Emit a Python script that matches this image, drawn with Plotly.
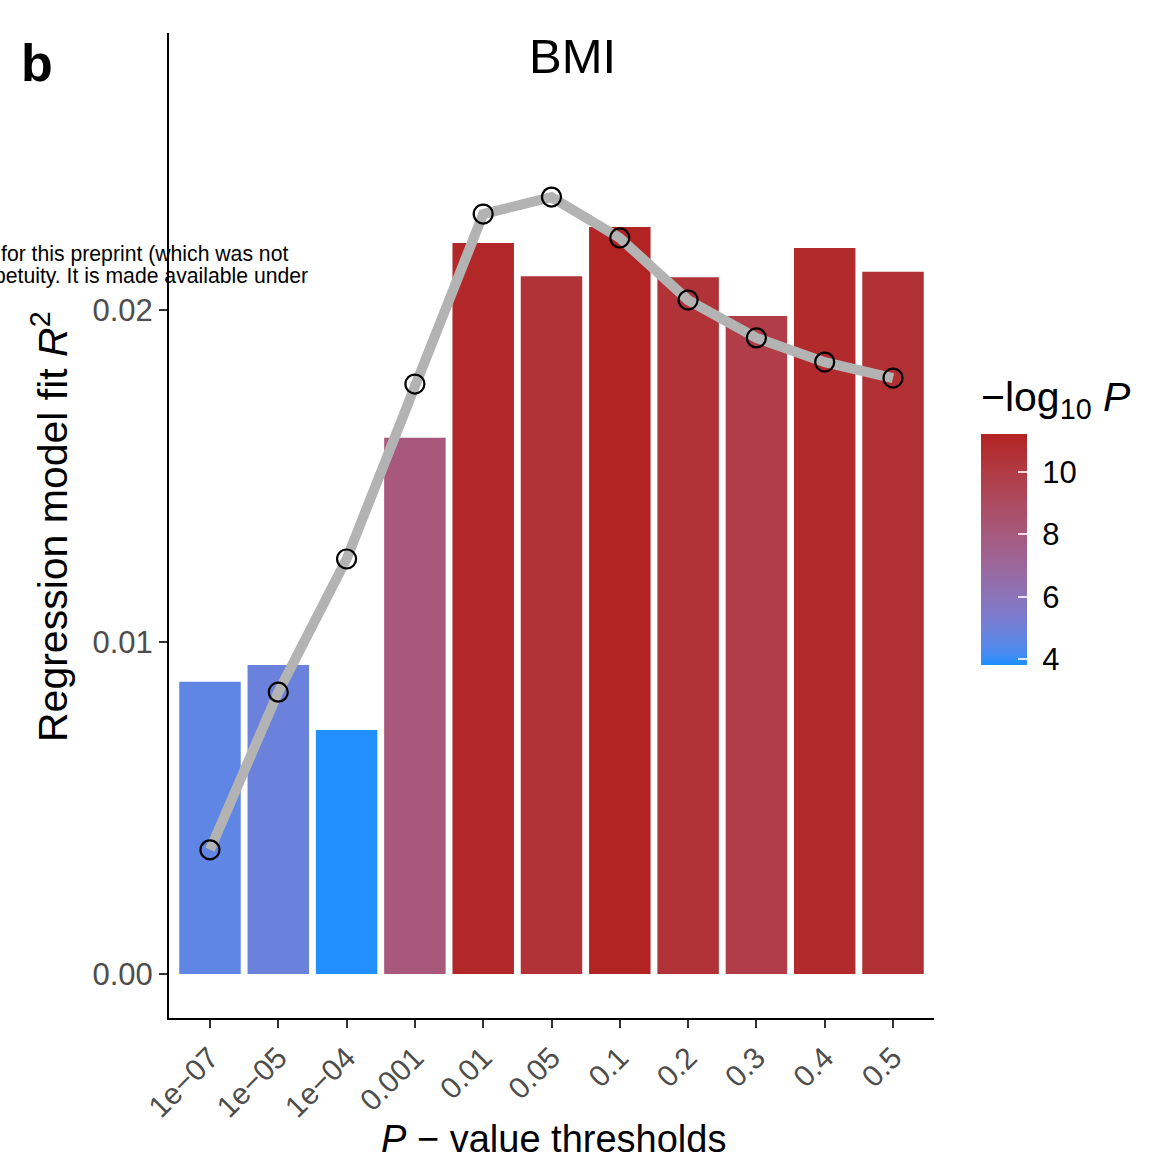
import plotly.graph_objects as go

# ---------------- data ----------------
thresholds = ["1e\u221207", "1e\u221205", "1e\u221204", "0.001", "0.01", "0.05",
              "0.1", "0.2", "0.3", "0.4", "0.5"]
bar_r2 = [0.00880, 0.00931, 0.00735, 0.01615, 0.02202, 0.02102,
          0.02250, 0.02099, 0.01982, 0.02187, 0.02115]
neglog10p = [4.6, 4.9, 3.85, 8.1, 11.0, 10.5, 11.2, 10.5, 9.9, 10.9, 10.6]
line_r2 = [0.00374, 0.00849, 0.01250, 0.01777, 0.02289, 0.02340,
           0.02217, 0.02030, 0.01916, 0.01843, 0.01795]
y_ticks = [0.0, 0.01, 0.02]
cbar_ticks = [4, 6, 8, 10]

# ------------- colour scale (Lab interpolation like ggplot) -------------
def hex2rgb(h):
    h = h.lstrip("#")
    return [int(h[i:i + 2], 16) / 255 for i in (0, 2, 4)]

def srgb2lin(c):
    return c / 12.92 if c <= 0.04045 else ((c + 0.055) / 1.055) ** 2.4

def lin2srgb(c):
    c = max(0.0, min(1.0, c))
    return 12.92 * c if c <= 0.0031308 else 1.055 * c ** (1 / 2.4) - 0.055

WX, WY, WZ = 0.95047, 1.0, 1.08883

def f(t):
    return t ** (1 / 3) if t > 0.008856 else 7.787 * t + 16 / 116

def finv(t):
    return t ** 3 if t ** 3 > 0.008856 else (t - 16 / 116) / 7.787

def rgb2lab(rgb):
    r, g, b = [srgb2lin(c) for c in rgb]
    X = 0.4124 * r + 0.3576 * g + 0.1805 * b
    Y = 0.2126 * r + 0.7152 * g + 0.0722 * b
    Z = 0.0193 * r + 0.1192 * g + 0.9505 * b
    fx, fy, fz = f(X / WX), f(Y / WY), f(Z / WZ)
    return [116 * fy - 16, 500 * (fx - fy), 200 * (fy - fz)]

def lab2rgb(lab):
    L, a, b = lab
    fy = (L + 16) / 116
    fx = fy + a / 500
    fz = fy - b / 200
    X, Y, Z = WX * finv(fx), WY * finv(fy), WZ * finv(fz)
    r = 3.2406 * X - 1.5372 * Y - 0.4986 * Z
    g = -0.9689 * X + 1.8758 * Y + 0.0415 * Z
    bb = 0.0557 * X - 0.2040 * Y + 1.0570 * Z
    return "rgb(%d,%d,%d)" % tuple(round(lin2srgb(c) * 255) for c in (r, g, bb))

lo, hi = rgb2lab(hex2rgb("#1E90FF")), rgb2lab(hex2rgb("#B22222"))
nstop = 21
colorscale = []
for i in range(nstop):
    t = i / (nstop - 1)
    colorscale.append([t, lab2rgb([lo[k] + t * (hi[k] - lo[k]) for k in range(3)])])

CMIN, CMAX = 3.81, 11.23

# ---------------- figure ----------------
W, H = 1171, 1162
ML, MR, MT, MB = 169, 237, 33, 144
PW, PH = W - ML - MR, H - MT - MB

def px_x(x):
    return (x - ML) / PW

def px_y(y):
    return (H - MB - y) / PH

FONT = "Liberation Sans, Arial, Helvetica, sans-serif"

fig = go.Figure()
fig.add_trace(go.Bar(
    x=thresholds, y=bar_r2,
    marker=dict(
        color=neglog10p, colorscale=colorscale, cmin=CMIN, cmax=CMAX,
        line=dict(width=0),
        showscale=True,
        colorbar=dict(
            title=dict(text="\u2212log<sub>10</sub> <i>P</i>", side="top",
                       font=dict(size=41, color="black", family=FONT)),
            thickness=46, thicknessmode="pixels",
            len=288, lenmode="pixels",
            x=px_x(981), xanchor="left", xref="paper",
            y=px_y(665), yanchor="bottom", yref="paper",
            outlinewidth=0,
            tickvals=cbar_ticks,
            ticktext=["\u00a0" + str(v) for v in cbar_ticks],
            ticks="inside", ticklen=9,
            tickcolor="rgba(255,255,255,0.8)", tickwidth=1.5,
            tickfont=dict(size=31, color="black", family=FONT),
            xpad=0, ypad=0,
        ),
    ),
    width=0.9,
    hoverinfo="skip",
))
fig.add_trace(go.Scatter(
    x=thresholds, y=line_r2, mode="lines",
    line=dict(color="#B3B3B3", width=10),
    hoverinfo="skip",
))
fig.add_trace(go.Scatter(
    x=thresholds, y=line_r2, mode="markers",
    marker=dict(symbol="circle-open", size=19, color="black",
                line=dict(width=2.2, color="black")),
    hoverinfo="skip",
))

y0 = 974
per = 33200.0
fig.update_layout(
    width=W, height=H,
    margin=dict(l=ML, r=MR, t=MT, b=MB),
    paper_bgcolor="white", plot_bgcolor="white",
    showlegend=False,
    font=dict(family=FONT),
    xaxis=dict(
        type="category", range=[-0.6, 10.6],
        showgrid=False, zeroline=False,
        showline=True, linecolor="black", linewidth=2,
        ticks="outside", ticklen=8, tickwidth=2, tickcolor="#333333",
        tickangle=-45,
        tickfont=dict(size=30, color="#4D4D4D", family=FONT),
    ),
    yaxis=dict(
        range=[(y0 - 1018) / per, (y0 - 33) / per],
        showgrid=False, zeroline=False,
        showline=True, linecolor="black", linewidth=2,
        ticks="outside", ticklen=8, tickwidth=2, tickcolor="#333333",
        tickvals=y_ticks, tickformat=".2f",
        tickfont=dict(size=31, color="#4D4D4D", family=FONT),
    ),
    annotations=[
        dict(text="BMI", x=px_x(572), y=px_y(56), xref="paper", yref="paper",
             showarrow=False, font=dict(size=49, color="black", family=FONT),
             xanchor="center", yanchor="middle"),
        dict(text="<b>b</b>", x=px_x(37), y=px_y(63), xref="paper", yref="paper",
             showarrow=False, font=dict(size=52, color="black", family=FONT),
             xanchor="center", yanchor="middle"),
        dict(text="Regression model fit <i>R</i><sup>2</sup>", x=px_x(50), y=px_y(527),
             xref="paper", yref="paper", textangle=-90, showarrow=False,
             font=dict(size=41, color="black", family=FONT),
             xanchor="center", yanchor="middle"),
        dict(text="<i>P</i> \u2212 value thresholds", x=px_x(553), y=px_y(1139),
             xref="paper", yref="paper", showarrow=False,
             font=dict(size=38, color="black", family=FONT),
             xanchor="center", yanchor="middle"),
        dict(text="for this preprint (which was not", x=px_x(290), y=px_y(254),
             xref="paper", yref="paper", showarrow=False,
             font=dict(size=21.2, color="black", family=FONT),
             xanchor="right", yanchor="middle"),
        dict(text="petuity. It is made available under", x=px_x(310), y=px_y(276),
             xref="paper", yref="paper", showarrow=False,
             font=dict(size=21.2, color="black", family=FONT),
             xanchor="right", yanchor="middle"),
    ],
)

fig.write_html("out.html")
